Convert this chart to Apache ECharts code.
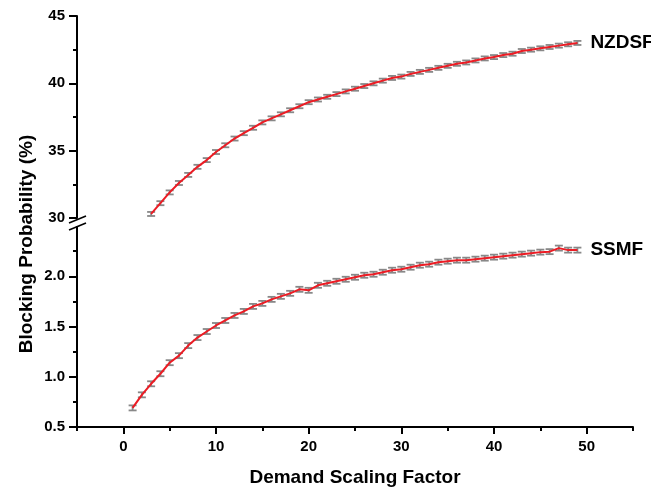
<!DOCTYPE html>
<html>
<head>
<meta charset="utf-8">
<script src="https://cdn.jsdelivr.net/npm/echarts@6/dist/echarts.min.js"></script>
<style>
  html, body { margin: 0; padding: 0; background: #fff; }
  #chart { width: 651px; height: 488px; }
</style>
</head>
<body>
<div id="chart"></div>
<script>
// demand scaling factor for each series
const ssmfFactor = [1, 2, 3, 4, 5, 6, 7, 8, 9, 10, 11, 12, 13, 14, 15, 16, 17, 18, 19, 20,
  21, 22, 23, 24, 25, 26, 27, 28, 29, 30, 31, 32, 33, 34, 35, 36, 37, 38, 39, 40,
  41, 42, 43, 44, 45, 46, 47, 48, 49];
const nzdsfFactor = [3, 4, 5, 6, 7, 8, 9, 10, 11, 12, 13, 14, 15, 16, 17, 18, 19, 20,
  21, 22, 23, 24, 25, 26, 27, 28, 29, 30, 31, 32, 33, 34, 35, 36, 37, 38, 39, 40,
  41, 42, 43, 44, 45, 46, 47, 48, 49];

// blocking probability (%)
const ssmfValues = [0.69, 0.82, 0.93, 1.03, 1.14, 1.21, 1.31, 1.39, 1.45, 1.51,
  1.56, 1.61, 1.65, 1.70, 1.73, 1.77, 1.80, 1.83, 1.87, 1.86,
  1.91, 1.93, 1.95, 1.97, 1.99, 2.01, 2.02, 2.04, 2.06, 2.07,
  2.09, 2.11, 2.12, 2.14, 2.15, 2.16, 2.16, 2.17, 2.18, 2.19,
  2.20, 2.21, 2.22, 2.23, 2.24, 2.245, 2.28, 2.26, 2.26];
const nzdsfValues = [30.3, 31.1, 31.9, 32.6, 33.2, 33.8, 34.3, 34.9, 35.4, 35.9,
  36.3, 36.7, 37.1, 37.4, 37.7, 38.0, 38.3, 38.6, 38.8, 39.0,
  39.2, 39.4, 39.6, 39.8, 40.0, 40.2, 40.4, 40.5, 40.7, 40.85,
  41.0, 41.15, 41.3, 41.45, 41.55, 41.7, 41.85, 41.95, 42.1, 42.2,
  42.4, 42.5, 42.6, 42.7, 42.8, 42.9, 43.0];

// half-width of error bars
const ssmfErr = 0.025;
const nzdsfErr = 0.15;

const xMajorTicks = [0, 10, 20, 30, 40, 50];
const xMinorTicks = [-5, 5, 15, 25, 35, 45, 55];
const lowMajorTicks = [0.5, 1.0, 1.5, 2.0];

const FONT = "'Liberation Sans', Arial, sans-serif";
const RED = "#ec1c24";
const GREY = "#888888";

const pairs = (xs, ys) => xs.map((x, i) => [x, ys[i]]);
const triples = (xs, ys, e) => xs.map((x, i) => [x, ys[i], e]);

function errorBar(params, api) {
  const x = api.value(0), y = api.value(1), e = api.value(2);
  const hi = api.coord([x, y + e]);
  const lo = api.coord([x, y - e]);
  const w = 4;
  const style = { stroke: GREY, lineWidth: 1.8 };
  return {
    type: "group",
    children: [
      { type: "line", shape: { x1: hi[0], y1: hi[1], x2: lo[0], y2: lo[1] }, style },
      { type: "line", shape: { x1: hi[0] - w, y1: hi[1], x2: hi[0] + w, y2: hi[1] }, style },
      { type: "line", shape: { x1: lo[0] - w, y1: lo[1], x2: lo[0] + w, y2: lo[1] }, style },
    ],
  };
}

const axisLine = { show: true, onZero: false, lineStyle: { color: "#000", width: 2 } };
const tickLabel = { color: "#000", fontFamily: FONT, fontWeight: "bold", fontSize: 15 };
const endLabel = {
  show: true,
  formatter: "{a}",
  distance: 13,
  color: "#000",
  fontFamily: FONT,
  fontWeight: "bold",
  fontSize: 19,
};

const chart = echarts.init(document.getElementById("chart"), null, { renderer: "canvas" });

chart.setOption({
  animation: false,
  backgroundColor: "#fff",
  grid: [
    { left: 77, right: 18, top: 16, height: 202 },
    { left: 77, right: 18, top: 226, height: 203 },
  ],
  xAxis: [
    { gridIndex: 0, type: "value", min: -5, max: 55, show: false },
    {
      gridIndex: 1,
      type: "value",
      min: -5,
      max: 55,
      interval: 5,
      axisLine,
      splitLine: { show: false },
      axisTick: { customValues: xMajorTicks, length: 7, lineStyle: { width: 2, color: "#000" } },
      axisLabel: { ...tickLabel, customValues: xMajorTicks, margin: 12 },
      name: "Demand Scaling Factor",
      nameLocation: "middle",
      nameGap: 41,
      nameTextStyle: { color: "#000", fontFamily: FONT, fontWeight: "bold", fontSize: 19 },
    },
    {
      gridIndex: 1,
      type: "value",
      min: -5,
      max: 55,
      interval: 5,
      position: "bottom",
      axisLine: { show: false, onZero: false },
      splitLine: { show: false },
      axisTick: { customValues: xMinorTicks, length: 4, lineStyle: { width: 2, color: "#000" } },
      axisLabel: { show: false },
    },
  ],
  yAxis: [
    {
      gridIndex: 0,
      type: "value",
      min: 30,
      max: 45,
      interval: 5,
      axisLine,
      splitLine: { show: false },
      axisTick: { show: true, length: 8, lineStyle: { width: 2, color: "#000" } },
      minorTick: { show: true, splitNumber: 2, length: 4, lineStyle: { width: 2, color: "#000" } },
      axisLabel: { ...tickLabel, margin: 12 },
    },
    {
      gridIndex: 1,
      type: "value",
      min: 0.5,
      max: 2.5,
      interval: 0.5,
      axisLine,
      splitLine: { show: false },
      axisTick: { show: true, customValues: lowMajorTicks, length: 8, lineStyle: { width: 2, color: "#000" } },
      minorTick: { show: true, splitNumber: 2, length: 4, lineStyle: { width: 2, color: "#000" } },
      axisLabel: { ...tickLabel, margin: 12, customValues: lowMajorTicks, formatter: (v) => v.toFixed(1) },
    },
  ],
  graphic: [
    {
      type: "rect",
      z: 100,
      shape: { x: 70, y: 219, width: 14, height: 7 },
      style: { fill: "#fff" },
    },
    {
      type: "line",
      z: 101,
      shape: { x1: 69, y1: 223, x2: 86, y2: 216 },
      style: { stroke: "#000", lineWidth: 1.6 },
    },
    {
      type: "line",
      z: 101,
      shape: { x1: 69, y1: 230, x2: 86, y2: 223 },
      style: { stroke: "#000", lineWidth: 1.6 },
    },
    {
      type: "text",
      z: 101,
      left: 17,
      top: "center",
      rotation: Math.PI / 2,
      style: {
        text: "Blocking Probability (%)",
        fill: "#000",
        font: "bold 19px " + FONT,
      },
    },
  ],
  series: [
    {
      name: "NZDSF-err",
      type: "custom",
      xAxisIndex: 0,
      yAxisIndex: 0,
      renderItem: errorBar,
      data: triples(nzdsfFactor, nzdsfValues, nzdsfErr),
      z: 1,
      silent: true,
    },
    {
      name: "SSMF-err",
      type: "custom",
      xAxisIndex: 1,
      yAxisIndex: 1,
      renderItem: errorBar,
      data: triples(ssmfFactor, ssmfValues, ssmfErr),
      z: 1,
      silent: true,
    },
    {
      name: "NZDSF",
      type: "line",
      xAxisIndex: 0,
      yAxisIndex: 0,
      data: pairs(nzdsfFactor, nzdsfValues),
      showSymbol: false,
      lineStyle: { color: RED, width: 2 },
      itemStyle: { color: RED },
      endLabel,
      z: 2,
    },
    {
      name: "SSMF",
      type: "line",
      xAxisIndex: 1,
      yAxisIndex: 1,
      data: pairs(ssmfFactor, ssmfValues),
      showSymbol: false,
      lineStyle: { color: RED, width: 2 },
      itemStyle: { color: RED },
      endLabel,
      z: 2,
    },
  ],
});
</script>
</body>
</html>
